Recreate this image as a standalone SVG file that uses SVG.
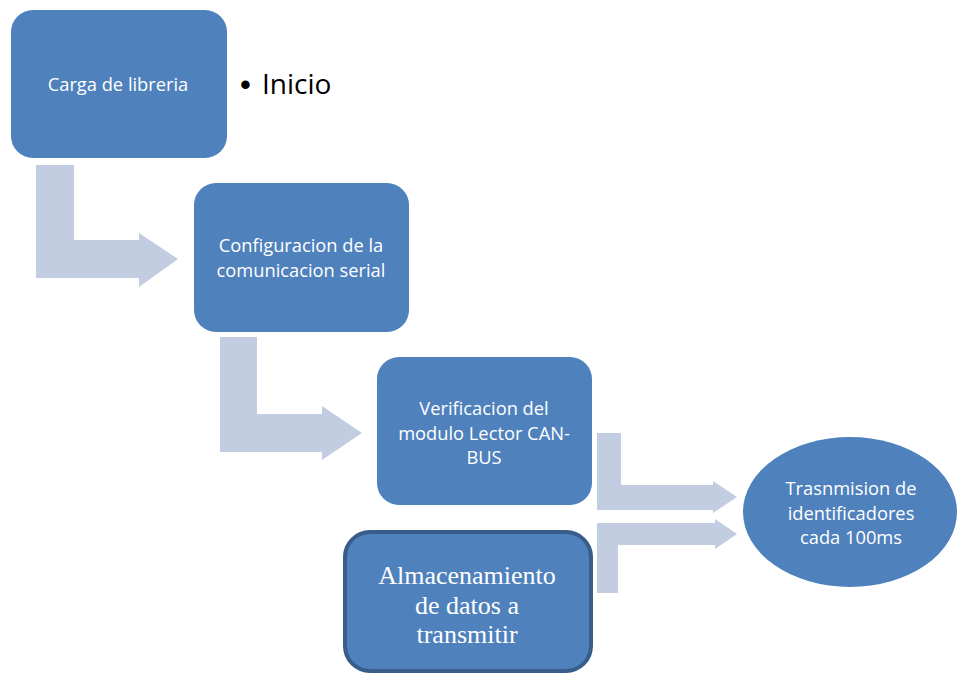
<svg xmlns="http://www.w3.org/2000/svg" width="958" height="675" viewBox="0 0 958 675">
  <style>
    .box { fill: #4f81bd; }
    .arrow { fill: #c3cde2; }
    .lbl { fill: #ffffff; font-family: "Open Sans", "Liberation Sans", Arial, sans-serif; font-size: 18.3px; text-anchor: middle; }
    .serif { fill: #ffffff; font-family: "Liberation Serif", "Times New Roman", serif; font-size: 26px; text-anchor: middle; }
    .bullet { fill: #000000; font-family: "Open Sans", "Liberation Sans", Arial, sans-serif; font-size: 28px; }
    .dot { fill: #000000; font-family: "Liberation Sans", Arial, sans-serif; font-size: 31px; }
  </style>
  <rect width="958" height="675" fill="#ffffff"/>

  <!-- bent arrows between the steps -->
  <g id="connectors">
    <path class="arrow" d="M36,165 H74 V240 H139 V233 L178,259 L139,287 V278 H36 Z"/>
    <path class="arrow" d="M220,337 H257 V414 H322 V406 L362,433 L322,460 V452 H220 Z"/>
    <path class="arrow" d="M597,433 H621 V485 H713 V481 L737,497 L713,513 V510 H597 Z"/>
    <path class="arrow" d="M597,593 H618 V545 H715 V549 L737,534 L715,519 V523 H597 Z"/>
  </g>

  <g id="carga">
    <rect class="box" x="11" y="10" width="216" height="148" rx="22"/>
    <text class="lbl" x="118" y="91">Carga de libreria</text>
  </g>

  <g id="inicio">
    <text class="dot" x="240" y="95">•</text>
    <text class="bullet" x="262" y="94">Inicio</text>
  </g>

  <g id="configuracion">
    <rect class="box" x="194" y="183" width="215" height="149" rx="22"/>
    <text class="lbl" x="301" y="252">Configuracion de la</text>
    <text class="lbl" x="301" y="277">comunicacion serial</text>
  </g>

  <g id="verificacion">
    <rect class="box" x="377" y="357" width="215" height="148" rx="22"/>
    <text class="lbl" x="484" y="415">Verificacion del</text>
    <text class="lbl" x="484" y="440">modulo Lector CAN-</text>
    <text class="lbl" x="484" y="464">BUS</text>
  </g>

  <g id="transmision">
    <ellipse class="box" cx="850" cy="512" rx="107" ry="75"/>
    <text class="lbl" x="851" y="495">Trasnmision de</text>
    <text class="lbl" x="851" y="520">identificadores</text>
    <text class="lbl" x="851" y="544">cada 100ms</text>
  </g>

  <g id="almacenamiento">
    <rect class="box" x="345" y="532" width="246" height="139" rx="25" stroke="#385d8a" stroke-width="4"/>
    <text class="serif" x="467" y="584">Almacenamiento</text>
    <text class="serif" x="467" y="614">de datos a</text>
    <text class="serif" x="467" y="643">transmitir</text>
  </g>
</svg>
